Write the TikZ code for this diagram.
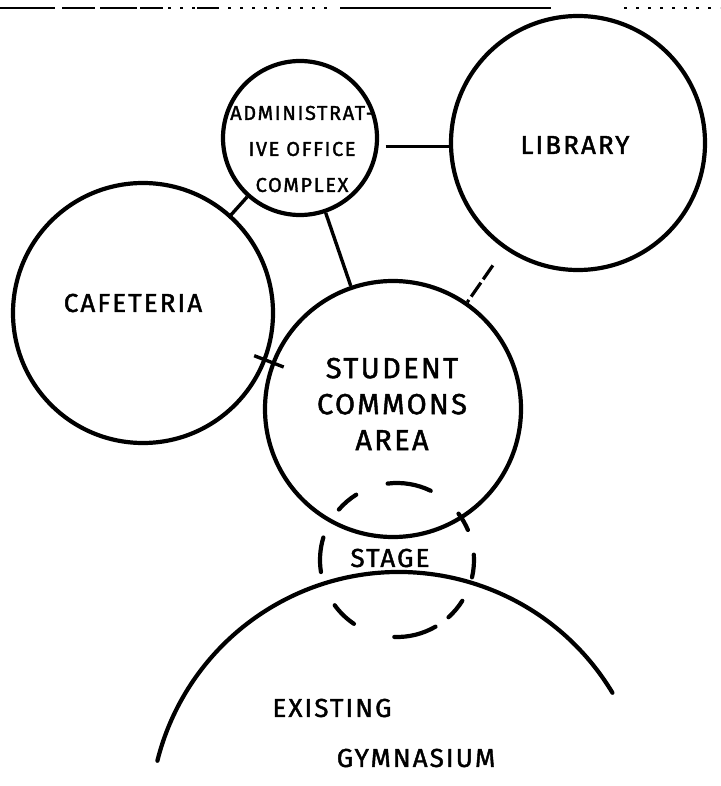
\documentclass[tikz,border=0pt]{standalone}
\usepackage{fontspec}
\setmainfont{Fira Sans}[LetterSpace=8, FakeBold=1.6]
\begin{document}
\begin{tikzpicture}[x=1pt,y=-1pt,
  room/.style={circle, draw, line width=4.2pt, inner sep=0pt, minimum size=#1},
  area/.style={circle, inner sep=0pt, minimum size=#1},
  link/.style={line width=3.4pt},
  loose/.style={line width=3.2pt, dash pattern=on 17pt off 4pt},
  stagearc/.style={line width=4.2pt, line cap=round},
  lbl/.style={font=\fontsize{#1}{36}\selectfont, align=center, inner sep=0pt},
  lbl/.default=26,
  sheet/.style={line width=2.8pt},
  sheetdots/.style={line width=2pt, dash pattern=on 3pt off 9pt}]
\useasboundingbox[fill=white] (0,0) rectangle (720,786);

% edge of the sheet
\draw[sheet] (0,8) -- (55,8) (100,8) -- (137,8) (340,8) -- (551,8);
\draw[sheet, line width=1.8pt] (62,8) -- (95,8) (140,8) -- (163,8) (197,8) -- (218,8);
\draw[sheetdots] (168,8) -- (335,8) (624,8) -- (720,8);

% rooms
\node[room=154pt] (admin) at (300,138) {};
\node[room=254pt] (lib) at (578,143) {};
\node[room=260pt] (caf) at (143,313) {};
\node[room=256pt] (com) at (393,409) {};
\node[area=154pt] (stage) at (397,560) {};
\node[area=498pt] (gym) at (399,821) {};

% existing gymnasium wall
\draw[stagearc] (gym.center) ++(31:249pt) arc[start angle=31, end angle=166, radius=249pt];

% stage, dashed outline
\foreach \a/\b in {64/97, 122/139, 23/37, 163/189, -13/4, 216/236, 268/300, 312/328}
  \draw[stagearc] (stage.center) ++(\a:77pt) arc[start angle=\a, end angle=\b, radius=77pt];

% connections
\draw[link, shorten <=7pt] (admin.-6) -- (admin.-6 -| lib.west);
\draw[link, shorten >=-4pt] (admin) -- (caf);
\draw[link] (admin) -- (com);
\draw[loose, shorten <=20pt] (lib) -- (com);
\draw[link, shorten <=-13pt, shorten >=-13pt] (caf) -- (com);

% labels
\node[lbl=20] (adminlbl) at (302,149) {ADMINISTRAT-\\IVE OFFICE\\COMPLEX};
\node[lbl] (liblbl) at (575,145) {LIBRARY};
\node[lbl] (caflbl) at (133,303) {CAFETERIA};
\node[lbl=29] (comlbl) at (392,404) {STUDENT\\COMMONS\\AREA};
\node[lbl] (stagelbl) at (390,558) {STAGE};
\node[lbl] (gymlbl1) at (332,708) {EXISTING};
\node[lbl] (gymlbl2) at (416,758) {GYMNASIUM};
\end{tikzpicture}
\end{document}
